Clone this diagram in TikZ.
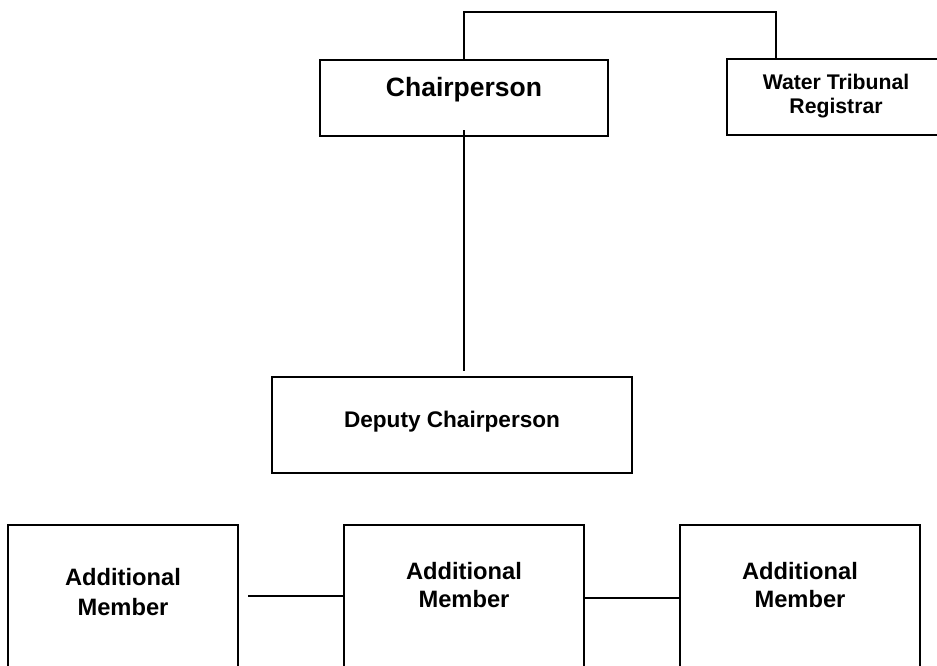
\documentclass[tikz,border=0pt]{standalone}
\usepackage{fontspec}
\setmainfont{Liberation Sans}
\usetikzlibrary{positioning,calc}
\newcommand{\postfont}[2]{\fontsize{#1}{#2}\selectfont\bfseries}

\begin{document}
\begin{tikzpicture}[x=1pt,y=-1pt,
  post/.style={draw,line width=1.5pt,inner sep=0pt,outer sep=0pt,align=center,anchor=north west},
  member/.style={post,minimum width=240,minimum height=200,text height=82,text depth=118,font=\postfont{23.7}{28}},
  link/.style={line width=1.5pt}]
\clip (0,0) rectangle (937,665);
\node[post,minimum width=288,minimum height=76,text height=36,text depth=40,font=\postfont{26.5}{32}] (chair) at (320,60) {Chairperson};
\node[post,minimum width=218,minimum height=76,text height=54,text depth=22,font=\postfont{21.2}{24}] (registrar) at (727,59) {Water Tribunal\\Registrar};
\node[post,minimum width=360,minimum height=96,text height=50,text depth=46,font=\postfont{22.6}{28}] (deputy) at (272,377) {Deputy Chairperson};
\node[member,minimum width=230,text height=90,text depth=110,font=\postfont{23.7}{30}] (memA) at (8,525) {Additional\\Member};
\node[member] (memB) at (344,525) {Additional\\Member};
\node[member] (memC) at (680,525) {Additional\\Member};
\draw[link] (chair.north) -- ++(0,-48) -| ([xshift=49pt]registrar.north west);
\draw[link] ([yshift=6pt]chair.south) -- ([yshift=6pt]chair.south |- deputy.north);
\draw[link] ([xshift=10pt,yshift=29pt]memA.east) -- ([yshift=29pt]memB.west);
\draw[link] ([yshift=27pt]memB.east) -- ([yshift=27pt]memC.west);
\end{tikzpicture}
\end{document}
